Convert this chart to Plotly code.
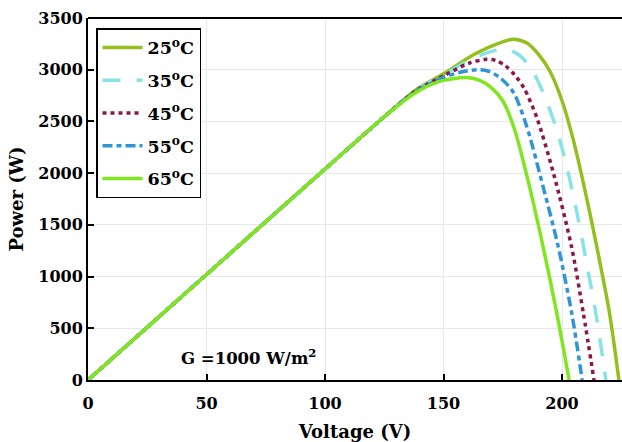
import plotly.graph_objects as go

# Voltage (V) / power (W) samples for each cell temperature
v25 = [0, 50, 100, 125, 138, 150, 163, 174, 179.5, 185, 190, 195, 200, 205, 210, 215, 220, 224]
p25 = [0, 1020, 2040, 2545, 2800, 2960, 3150, 3262, 3295, 3260, 3150, 2980, 2700, 2300, 1800, 1250, 650, 0]

v35 = [0, 50, 100, 125, 138, 150, 160, 168, 176, 182, 187, 192, 197.8, 202, 206, 210.4, 214.6, 218.5]
p35 = [0, 1020, 2040, 2545, 2795, 2950, 3080, 3160, 3200, 3140, 3010, 2780, 2418, 2063, 1650, 1128, 600, 0]

v45 = [0, 50, 100, 125, 138, 150, 161, 168, 172, 176, 180, 184, 189.3, 196.5, 204, 209, 213.5]
p45 = [0, 1020, 2040, 2545, 2790, 2940, 3065, 3100, 3090, 3040, 2950, 2820, 2540, 1990, 1289, 645, 0]

v55 = [0, 50, 100, 125, 138, 150, 157, 164, 169, 174, 179.5, 185, 192, 198.4, 204.1, 208.5]
p55 = [0, 1020, 2040, 2545, 2785, 2925, 2975, 3000, 2985, 2920, 2780, 2460, 1870, 1289, 645, 0]

v65 = [0, 50, 100, 125, 138, 148, 159.5, 165, 170, 175, 180, 185, 192, 197.8, 203]
p65 = [0, 1020, 2040, 2545, 2775, 2885, 2925, 2900, 2830, 2700, 2420, 1990, 1290, 645, 0]

labels = ["25<sup>o</sup>C", "35<sup>o</sup>C", "45<sup>o</sup>C", "55<sup>o</sup>C", "65<sup>o</sup>C"]
xticks = [0, 50, 100, 150, 200]
yticks = [0, 500, 1000, 1500, 2000, 2500, 3000, 3500]

series = [
    (v25, p25, "#93C01F", "solid", 3.5),
    (v35, p35, "#88E2E6", "18px,16px", 3.5),
    (v45, p45, "#8A1848", "4px,4px", 3.5),
    (v55, p55, "#2F95D6", "10px,4px,5px,4px", 3.5),
    (v65, p65, "#80E620", "solid", 3.5),
]

SERIF = "DejaVu Serif"

fig = go.Figure()
for i, ((v, p, color, dash, width), name) in enumerate(zip(series, labels)):
    fig.add_trace(go.Scatter(
        x=v, y=p, mode="lines", name=name, legendgroup=f"g{i}",
        line=dict(color=color, dash=dash, width=width, shape="spline", smoothing=0.8),
    ))

fig.add_annotation(
    x=38.5, y=225, xref="x", yref="y", xanchor="left", yanchor="middle",
    text="<b>G =1000 W/m<sup>2</sup></b>", showarrow=False,
    font=dict(family=SERIF, size=16.5, color="black"),
)

# top frame line (right side lies beyond the visible area)
fig.add_shape(type="line", xref="paper", yref="paper", x0=0, x1=1, y0=1, y1=1,
              line=dict(color="black", width=2))

axis_common = dict(
    showline=True, linecolor="black", linewidth=2, mirror=False,
    ticks="inside", ticklen=6, tickwidth=1.5, tickcolor="black",
    showgrid=True, gridcolor="#E4E8E8", gridwidth=1, zeroline=False,
    tickfont=dict(family=SERIF, size=16, color="black", weight="bold"),
)

fig.update_layout(
    width=622, height=442,
    margin=dict(l=88, r=0, t=18, b=62),
    paper_bgcolor="white", plot_bgcolor="white",
    xaxis=dict(range=[0, 225.3], tickvals=xticks, ticklabelstandoff=8,
               title=dict(text="<b>Voltage (V)</b>", standoff=13,
                          font=dict(family=SERIF, size=18, color="black")),
               **axis_common),
    yaxis=dict(range=[0, 3500], tickvals=yticks,
               title=dict(text="<b>Power (W)</b>", standoff=10,
                          font=dict(family=SERIF, size=18, color="black")),
               **axis_common),
    legend=dict(
        x=0.015, y=0.972, xanchor="left", yanchor="top",
        bgcolor="white", bordercolor="black", borderwidth=1.5,
        font=dict(family=SERIF, size=17.5, color="black", weight="bold"),
        itemwidth=40, tracegroupgap=7,
    ),
    showlegend=True,
)

fig.write_html("out.html")
